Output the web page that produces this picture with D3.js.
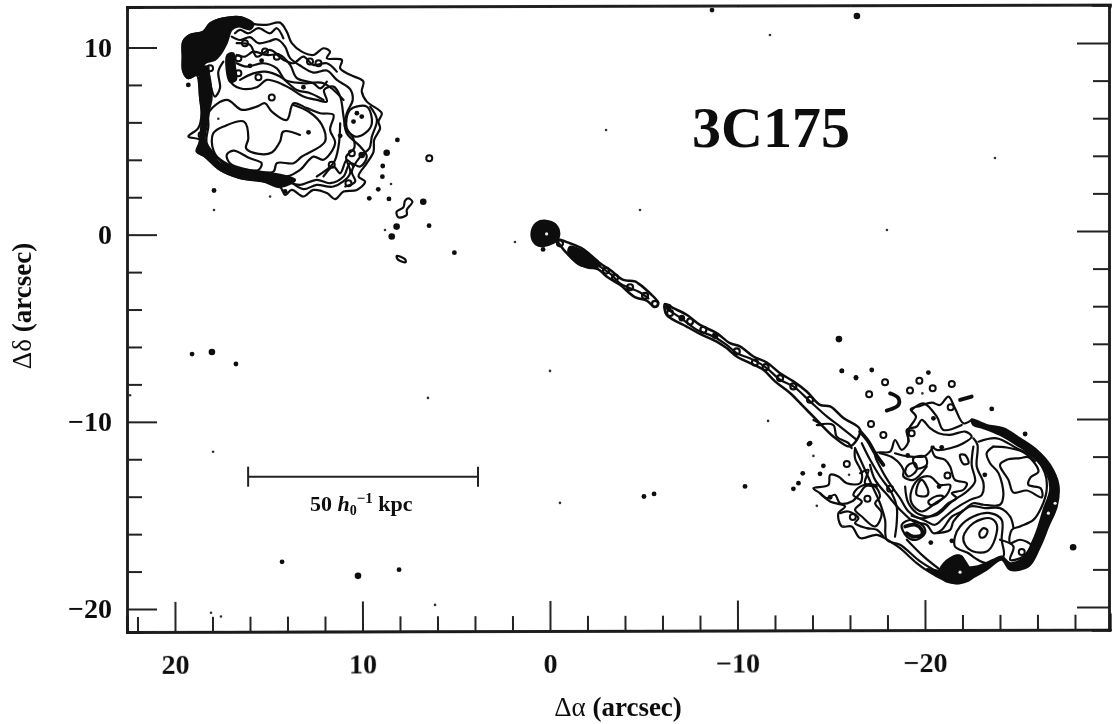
<!DOCTYPE html>
<html>
<head>
<meta charset="utf-8">
<title>3C175</title>
<script src="https://cdn.jsdelivr.net/npm/d3@7"></script>
<style>
  html, body { margin: 0; background: #fff; }
  svg { display: block; }
  text { font-family: "Liberation Serif", serif; font-weight: bold; fill: #111; }
  .greek { font-weight: normal; }
</style>
</head>
<body>
<div id="chart"></div>
<script>
// all contour values are [delta alpha, delta delta] in arcsec
const xMajor = [20, 10, 0, -10, -20];
const xMinor = [22, 18, 16, 14, 12, 8, 6, 4, 2, -2, -4, -6, -8, -12, -14, -16, -18, -22, -24, -26, -28];
const yMajor = [10, 0, -10, -20];
const yMinor = [8, 6, 4, 2, -2, -4, -6, -8, -12, -14, -16, -18];
const scaleBarAlpha = [16.1, 3.84];
const scaleBarDelta = [-12.93];

// north lobe
const northOuter = [[19.56,10.32],[19.2,10.67],[18.49,10.85],[18.13,11.29],[17.42,11.56],[16.44,11.61],[15.82,11.26],[15.11,11.21],[14.4,11.33],[14.04,10.85],[13.77,10.23],[13.24,9.78],[12.62,9.6],[12.08,9.96],[11.73,9.78],[11.9,9.43],[11.1,9.34],[11.19,8.89],[10.66,8.54],[9.95,8.18],[10.04,7.65],[9.77,7.11],[8.97,6.49],[9.15,6.04],[9.06,5.69],[9.38,5.06],[9.41,4.44],[9.77,3.82],[10.21,3.11],[9.86,2.84],[10.3,2.39],[11.01,2.3],[11.46,1.9],[11.9,2.22],[12.62,2.39],[13.15,2.04],[13.77,2.39],[14.13,2.13],[14.4,2.57],[15.29,2.84],[16.53,3.02],[17.6,3.46],[18.4,4.17],[18.85,4.44],[18.67,5.06],[19.29,5.24],[18.76,5.69],[18.58,6.49],[18.67,7.38],[18.85,8.54],[19.29,8.36],[19.56,8.71],[19.59,9.51]];
const northSecond = [[16.98,10.58],[16.53,10.4],[16,10.55],[15.55,10.23],[15.02,10.32],[14.57,10.44],[14.13,10.05],[13.86,9.43],[13.24,8.98],[12.62,8.66],[11.9,8.77],[11.37,8.27],[10.66,7.77],[10.52,7.2],[10.84,6.49],[10.92,5.69],[10.52,5.21],[10.44,4.62],[10.87,4.17],[10.66,3.28],[11.55,2.57],[12.44,2.66],[13.15,2.43],[13.77,2.79]];
const northThird = [[17.15,9.51],[17.1,8.27],[16.53,7.82],[15.64,7.88],[15.11,8.27],[14.4,8.09],[13.86,7.82],[13.15,7.38],[12.44,7.2],[11.9,7.11],[12.05,7.73],[11.55,7.91],[11.19,7.38],[11.01,6.31],[10.84,5.42],[10.12,4.71],[9.77,4.17],[10.12,3.64],[10.66,3.82],[11.01,3.11],[11.73,2.75],[12.44,2.93],[13.33,2.66],[14.04,2.84]];
const northFourth = [[18.17,6.58],[17.24,7.2],[16.44,6.67],[15.64,6.84],[15.2,7.02],[14.84,6.58],[14.04,6.13],[13.68,7.02],[12.97,6.76],[12.26,6.49],[11.55,6.4],[11.73,5.6],[11.46,4.89],[12.08,4],[12.62,4.17],[13.33,3.46],[14.04,3.11],[15.11,3.28],[16.71,3.55],[17.78,4.17],[18.31,4.89],[18.22,5.78]];
const northFifth = [[13.33,5.33],[14.22,5.51],[14.4,4.97],[14.84,4.39],[15.55,4.32],[16.21,4.62],[16.09,5.15],[16.32,6.04],[17.33,5.81],[17.96,5.42],[17.96,4.53],[17.42,3.82],[16.18,3.46],[14.75,3.37],[14.57,3.82],[13.68,3.82],[13.24,4.17],[12,4.97],[12.17,5.87],[12.88,6.58],[13.68,6.93]];
const northIsland = [[17.24,4.26],[16.89,4.49],[16,4.08],[15.38,3.82],[15.55,3.46],[16.44,3.55],[17.07,3.82]];
const northLoop = [[10.66,6.67],[9.77,6.84],[9.5,5.95],[9.86,5.42],[10.39,5.24],[10.84,5.69]];
const northRim = [[9.59,6.84],[9.23,6.13],[9.5,5.24],[9.63,4.62],[10.12,4.17],[10.57,3.37],[10.39,2.84],[10.92,2.57]];
const northInnerLeft = [[18.22,8.98],[18.13,8.09],[17.87,7.38],[17.6,7.83],[17.69,8.71],[17.42,9.25]];
const northUpperA = [[16.8,10.76],[16.53,10.94],[16.09,10.76],[15.55,11.03],[14.93,10.76],[14.57,11.03],[14.22,10.49]];
const northUpperB = [[16.71,9.6],[16.27,9.51],[15.82,9.78],[15.11,9.6],[14.4,9.6],[13.86,9.07],[13.5,8.36],[12.62,8.09],[12.26,7.82],[11.9,8.18]];
const northUpperC = [[16.53,8.27],[15.82,8.62],[15.2,8.71],[14.4,8.45],[13.5,7.73],[12.79,7.56],[12.08,7.2]];
const northUpperD = [[16.71,10.23],[16,10.14],[15.64,9.51],[14.93,9.87],[14.22,9.34],[13.68,9.16],[13.15,9.51],[12.62,9.07],[11.9,9.16],[11.37,8.71]];
const northUpperE = [[16.71,9.16],[16.18,8.98],[15.29,9.16],[14.57,8.89],[14.13,8.27],[13.15,8.09],[12.08,8.09],[11.01,7.2]];
const northLowerA = [[12.08,3.11],[11.55,3.64],[11.19,3.28],[10.84,3.99],[10.48,3.64]];
const northLowerB = [[11.19,5.95],[11.28,4.71],[11.55,3.82],[12.44,3.11]];
const northCap = [[19.56,10.32],[19.2,10.67],[18.49,10.85],[18.13,11.29],[17.42,11.56],[16.44,11.61],[15.82,11.26],[16,10.97],[16.62,11.12],[16.98,10.94],[17.24,10.23],[17.6,9.6],[17.87,9.34],[18.4,9.16],[18.67,8.54],[18.85,8.54],[19.29,8.36],[19.56,8.71],[19.59,9.51]];
const northBand = [[18.58,6.49],[18.67,5.06],[18.76,4.44],[18.4,4.17],[17.6,3.46],[16.53,3.02],[15.29,2.84],[14.4,2.54],[13.59,2.93],[14.4,3.2],[15.47,3.37],[16.71,3.55],[17.6,3.82],[18.04,4.44],[18.4,5.06],[18.28,5.95],[18.17,6.67],[18.04,7.38],[18.35,9],[18.6,8.8],[18.67,7.38]];
const northBar = [[17.21,9.6],[16.89,9.69],[16.8,8.98],[16.75,8.27],[17.07,8.18]];
const northSquiggle = [[7.56,1.94],[7.34,1.76],[7.64,1.32],[7.64,1.05],[8.09,0.93],[8.18,1.23],[7.82,1.46],[7.73,1.82]];
const northSliver = [[8.18,-1.14],[7.73,-1.31],[7.7,-1.47],[8.09,-1.35]];

// jet
const core = [[0.98,0.16],[0.71,0.64],[0.21,0.75],[-0.27,0.57],[-0.5,0.07],[-0.36,-0.32],[0.09,-0.55],[0.62,-0.6],[0.89,-0.37]];
const jetInner = [[-0.36,-0.25],[-1.07,-0.46],[-1.78,-0.78],[-2.67,-1.53],[-3.2,-1.88],[-3.91,-2.42],[-4.53,-2.5],[-5.33,-3.13],[-5.78,-3.66],[-5.6,-3.87],[-5.16,-3.52],[-4.53,-3.34],[-3.73,-2.68],[-3.02,-2.24],[-2.58,-1.85],[-1.6,-1.62],[-1.07,-1.17],[-0.53,-0.55]];
const jetInnerFill = [[-1.07,-0.64],[-1.96,-0.99],[-2.67,-1.62],[-2.22,-1.79],[-1.51,-1.53],[-0.98,-0.99]];
const jetInnerSpine = [[-2.67,-1.71],[-3.29,-2.15],[-3.73,-2.6],[-4.27,-2.86],[-4.71,-3.04],[-5.25,-3.4]];
const jetOuter = [[-6.13,-3.7],[-6.58,-3.93],[-7.29,-4.28],[-8,-4.82],[-8.89,-5.26],[-9.6,-5.8],[-10.13,-5.97],[-10.85,-6.51],[-11.56,-6.83],[-12.27,-7.4],[-12.98,-7.84],[-13.69,-8.38],[-14.4,-9.09],[-14.94,-9.18],[-15.65,-9.8],[-16.54,-10.42],[-16,-11.31],[-15.11,-10.78],[-14.22,-9.89],[-13.51,-9.18],[-12.8,-8.46],[-12,-7.84],[-11.38,-7.22],[-10.67,-6.86],[-9.96,-6.51],[-9.42,-6.06],[-8.89,-5.71],[-8,-5.3],[-7.29,-4.91],[-6.22,-4.28]];
const jetOuterSpine = [[-6.31,-4.02],[-7.11,-4.55],[-7.82,-5.08],[-8.71,-5.44],[-9.42,-5.89],[-9.96,-6.33],[-10.85,-6.69],[-11.56,-7.13],[-12.27,-7.75],[-12.98,-8.11],[-13.87,-8.91],[-14.76,-9.71],[-15.47,-10.25],[-16.36,-10.96]];
const jetRings = [[-0.53,-0.46],[-2.99,-1.92],[-3.47,-2.29],[-4.27,-2.81],[-5.07,-3.27],[-5.6,-3.7],[-6.4,-4.19],[-7.47,-4.64],[-8.18,-5.08],[-9.96,-6.24],[-10.93,-6.83],[-11.5,-7.08],[-12.27,-7.66],[-12.98,-8.11],[-13.87,-8.82]];

// south lobe
const southRim = [[-22.49,-9.86],[-23.29,-10.17],[-24.18,-10.34],[-25.07,-10.88],[-25.96,-11.5],[-26.67,-12.3],[-27.12,-13.37],[-27.03,-14.52],[-26.58,-15.59],[-26.14,-16.66],[-25.52,-17.73],[-24.54,-17.9],[-24.09,-17.37],[-23.29,-17.9],[-22.49,-18.35],[-21.69,-18.62],[-20.8,-18.35],[-20.09,-17.87],[-20.63,-17.94],[-20.98,-17.9],[-21.52,-17.19],[-21.96,-17.19],[-22.23,-17.73],[-22.76,-17.73],[-23.65,-17.37],[-24.09,-17.19],[-24.54,-17.55],[-25.25,-17.28],[-25.78,-16.3],[-26.05,-15.59],[-26.32,-14.7],[-26.67,-13.63],[-26.49,-12.74],[-25.78,-11.86],[-24.89,-11.23],[-24,-10.7],[-23.12,-10.34],[-22.58,-10.17]];
const southKnot = [[-20.8,-17.9],[-21.34,-17.28],[-21.87,-17.16],[-22.32,-17.73],[-22.58,-18.26],[-21.87,-18.62],[-20.98,-18.44]];
const southTop = [[-22.49,-9.9],[-22.05,-10.08],[-21.6,-9.28],[-21.25,-8.65],[-20.8,-9.1],[-20.36,-8.97],[-19.74,-9.15],[-19.24,-9.33],[-19.52,-9.72],[-19.12,-10.43],[-19.12,-11.05]];
const southTopB = [[-19.29,-9.36],[-19.92,-9.01],[-20.63,-9.72],[-20.98,-10.43],[-21.96,-10.17]];
const southLeft = [[-20.8,-18.26],[-20.18,-17.99],[-19.56,-17.55],[-18.67,-16.75],[-18.14,-16.39],[-17.43,-16.04],[-16.54,-16.21],[-16.09,-15.59],[-15.56,-15.59],[-15.38,-14.88],[-15.74,-14.52],[-14.94,-14.26],[-14.4,-13.81],[-14.05,-13.55],[-14.85,-13.37],[-14.94,-12.83],[-15.38,-12.92],[-15.83,-13.28],[-16.54,-13.28],[-16.63,-12.74],[-16.27,-11.94],[-16.27,-11.41]];
const southEdgeA = [[-16.27,-11.41],[-16.72,-12.39],[-17.16,-13.37],[-17.6,-14.35],[-17.87,-15.24],[-17.96,-16.3],[-18.67,-16.57],[-19.74,-17.46],[-20.63,-18]];
const southEdgeB = [[-19.03,-16.3],[-19.92,-17.19],[-20.8,-17.9]];
const southEdgeC = [[-16.63,-11.14],[-17.07,-12.03],[-17.6,-12.92],[-18.23,-13.81],[-18.49,-14.52],[-18.49,-15.41],[-18.4,-16.13]];
const southInner = [[-17.34,-11.68],[-18.14,-11.59],[-18.4,-10.97],[-18.76,-11.5],[-19.12,-11.05],[-19.03,-10.43],[-19.56,-10.25],[-19.83,-9.9],[-20.27,-10.34],[-20.72,-10.61],[-21.34,-10.7],[-22.14,-10.52],[-22.49,-10.79],[-22.05,-11.14],[-21.34,-11.41],[-20.63,-11.5],[-20.36,-11.32],[-20.54,-11.86],[-21.07,-12.03],[-21.34,-12.39],[-21.6,-13.1],[-22.23,-13.28],[-22.05,-13.63],[-21.43,-13.81],[-21.69,-14.08],[-21.25,-14.35],[-20.63,-14.88],[-19.74,-15.15],[-19.12,-14.79],[-18.67,-14.08],[-18.23,-13.46],[-17.69,-12.57]];
const southCentre = [[-19.29,-13.63],[-19.74,-13.01],[-20.27,-12.92],[-20.8,-13.37],[-21.34,-13.37],[-21.16,-13.9],[-20.54,-14.35],[-19.83,-14.79],[-19.29,-14.35]];
const southWrap = [[-18.94,-13.46],[-19.12,-14.35],[-19.74,-14.97],[-20.63,-14.97],[-21.43,-14.26],[-22.23,-13.72],[-22.67,-13.19],[-22.49,-12.3],[-22.58,-11.32]];
const southMid = [[-23.65,-11.32],[-23.29,-11.68],[-23.47,-12.21],[-23.92,-12.74],[-24.18,-13.9],[-24,-14.43],[-23.12,-14.43],[-22.58,-14.35],[-21.96,-14.79],[-21.43,-15.06],[-20.89,-15.77],[-20.45,-15.95],[-20.09,-15.5],[-19.38,-15.32],[-18.67,-14.7],[-18.14,-14.08],[-17.34,-13.1],[-17.07,-12.3]];
const southMidB = [[-22.58,-10.88],[-22.8,-11.23],[-22.76,-12.39],[-23.12,-13.28],[-23.03,-13.9],[-22.4,-14.17],[-21.52,-14.7],[-20.98,-15.15],[-20.54,-15.5],[-19.92,-15.24],[-19.29,-15.02]];
const southBelow = [[-20.63,-15.95],[-21.34,-15.77],[-21.52,-15.32],[-22.4,-14.52],[-23.2,-14.61],[-24,-14.61],[-24.54,-15.06],[-24.72,-15.68]];
const southBelowB = [[-24,-16.3],[-24.72,-16.66],[-24.54,-17.37],[-25.25,-17.19],[-25.78,-16.48]];
const southArc = [[-22.85,-11.06],[-23.83,-10.88],[-24.89,-11.41],[-25.87,-11.94],[-26.4,-12.74],[-26.49,-13.63],[-26.23,-14.52],[-25.78,-15.24],[-25.07,-15.59],[-24.63,-15.77],[-24.54,-16.48],[-25.07,-16.3],[-25.69,-16.62],[-25.52,-17.19]];
const southArcInner = [[-23.65,-11.32],[-24.36,-11.37],[-25.2,-11.6],[-25.87,-12.1]];
const southIsland = [[-24,-12.3],[-24.36,-12.03],[-25.07,-11.94],[-25.52,-11.89],[-26.05,-12.66],[-25.64,-12.96],[-25.52,-13.37],[-26.17,-13.55],[-26.23,-14.03],[-25.43,-13.67],[-24.72,-13.78],[-24.45,-13.1]];
const ovalOuter = [[-21.6,-16.13],[-21.87,-15.59],[-22.58,-15.06],[-23.47,-14.88],[-24.09,-15.24],[-24.09,-16.3],[-24.18,-17.19],[-23.29,-17.55],[-22.67,-17.28],[-22.32,-17.02],[-21.6,-16.66]];
const ovalMiddle = [[-22.05,-16.13],[-22.58,-15.41],[-23.47,-15.15],[-23.83,-15.5],[-23.65,-16.48],[-23.29,-16.93],[-22.58,-16.93],[-22.14,-16.57]];
const ovalInner = [[-22.9,-15.95],[-23.12,-15.68],[-23.33,-15.8],[-23.2,-16.13],[-22.97,-16.18]];
const knotOuter = [[-18.76,-15.5],[-19.29,-15.24],[-19.92,-15.59],[-20,-15.95],[-19.56,-16.3],[-19.03,-16.13]];
const knotInner = [[-18.94,-15.59],[-19.47,-15.5],[-19.83,-15.77],[-19.83,-16.04],[-19.38,-16.13],[-19.03,-15.95]];
const islandA = [[-19.65,-13.28],[-19.83,-13.1],[-20.18,-13.72],[-20.09,-13.95],[-19.56,-13.9]];
const islandB = [[-20.18,-14.26],[-20.63,-13.96],[-20.98,-13.99],[-20.63,-14.35],[-20.27,-14.43]];
const islandC = [[-21.87,-11.77],[-22.14,-11.77],[-22.32,-12.21],[-22.05,-12.25]];
const islandD = [[-19.12,-12.3],[-19.47,-12.21],[-19.56,-12.57],[-19.12,-12.92],[-18.94,-12.66]];
const islandE = [[-19.38,-11.94],[-20,-11.86],[-20.09,-12.3],[-19.56,-12.48]];
const southPatch = [[-16.54,-13.46],[-17.25,-13.37],[-17.6,-13.99],[-17.34,-14.35],[-17.69,-14.88],[-17.34,-15.59],[-16.63,-15.06],[-16.27,-14.7],[-16.63,-14.26],[-16.18,-13.9]];
const messA = [[-14.4,-13.81],[-14.76,-14.08],[-15.2,-13.9],[-15.47,-14.35],[-16.09,-14.26],[-16.54,-13.81],[-16.8,-13.46],[-17.43,-13.37]];
const messB = [[-15.47,-14.88],[-15.92,-14.79],[-16.45,-15.15],[-16.27,-15.41],[-16.89,-15.68],[-17.43,-15.77],[-17.78,-16.13]];
const messC = [[-16.54,-12.74],[-16.98,-12.57],[-16.8,-13.28],[-17.43,-13.46]];
const messD = [[-17.6,-11.68],[-18.32,-11.94],[-18.85,-12.57],[-18.85,-12.92],[-19.38,-13.1],[-20.09,-12.39]];
const messE = [[-18.4,-11.68],[-19.12,-11.85],[-20,-11.82],[-20.45,-11.32]];
const jetEntry = [[-16.54,-10.52],[-16.98,-11.05],[-17.34,-11.68],[-17.78,-12.3]];
const jetJag = [[-14.05,-9.9],[-14.49,-10.17],[-14.23,-10.17],[-15.11,-10.17],[-15.29,-10.79],[-15.92,-11.14],[-16.09,-11.41]];
const southHook = [[-18.14,-8.48],[-18.58,-8.74],[-18.58,-9.1],[-17.96,-9.4]];
const southStroke = [[-21.87,-8.83],[-22.49,-8.65]];

// unresolved spots
const rings = [[16.27,10.23],[16.62,9.43],[16.62,8.62],[15.55,8.41],[15.2,9.78],[14.57,9.51],[12.8,9.25],[12.35,9.16],[14.84,7.33],[10.57,4.35],[11.64,3.73],[10.75,2.75],[18.13,8.89],[18.58,5.33],[6.44,4.08],[-21.2,-12.87],[-18.14,-13.57],[-16.93,-14.11],[-16.15,-15.09],[-25.16,-16.96],[-17.87,-7.89],[-19.7,-7.8],[-20.41,-8.21],[-21.43,-7.98],[-19.2,-8.33],[-17.02,-8.53],[-21.37,-9.22],[-17.12,-10.11],[-17.78,-10.7],[-19.29,-10.61],[-15.83,-12.25]];
const largeDots = [[10.04,4.26],[8.71,4.38],[8.18,0.43],[8.44,-0.1],[6.76,1.76],[-16.37,11.68],[-15.41,-5.58],[10.24,-18.23],[-27.9,-16.7],[-6.31,-3.87],[-8.81,-5.4],[-7.03,-4.46],[18.03,-6.27]];
const dots = [[16,9.02],[15.38,9.3],[13.15,7.88],[12.88,5.47],[11.19,5.28],[10.3,6.49],[10.04,6.31],[10.48,6.04],[19.29,8],[17.92,2.36],[14.13,2.31],[8.14,5.06],[8.92,3.67],[8.94,3.1],[9.16,2.42],[9.64,1.94],[8.59,1.91],[6.45,0.48],[5.1,-0.96],[-16.32,-7.62],[-15.56,-7.28],[-17.16,-7.23],[-20.18,-7.37],[-20.45,-9.81],[-23.56,-9.31],[-25.34,-10.65],[-20.89,-11.36],[-13.87,-11.14],[-14.58,-12.35],[-14.4,-12.78],[-13.48,-12.75],[-13.25,-13.28],[-12.98,-13.58],[-14.94,-14.03],[-19.08,-11.8],[-23.19,-12.83],[-20.75,-13.46],[-20.31,-16.45],[-21.43,-16.36],[19.09,-6.38],[16.75,-6.91],[14.29,-17.48],[8.05,-17.9],[-10.4,-13.45],[-5.01,-13.99],[-5.55,-13.85],[-8.64,12],[0.37,-0.79],[-13.81,-11.19],[-15.57,-7.28],[-16.32,-7.66]];
const smallDots = [[17.69,6.19],[12.79,6.67],[14.93,2.04],[8.8,0.25],[8.48,2.71],[-11.73,10.67],[-2.99,5.59],[-23.73,4.1],[17.92,1.32],[-4.8,1.32],[-17.97,0.25],[1.87,-0.39],[22.4,-8.58],[6.51,-8.72],[17.97,-11.6],[0,-7.28],[-0.53,-14.33],[6.13,-19.78],[18.08,-20.2],[17.55,-20.4],[-11.63,-9.95],[-19.86,-8.48],[-14.05,-11.82],[-14.23,-14.49],[-15.95,-12.83],[-15.65,-15.59]];
const holes = [[0.18,0.04],[-21.87,-18.03],[-26.58,-14.88],[-26.94,-14.35]];

const closedContours = [northOuter, northFourth, northIsland, northLoop, northSquiggle, northSliver, southInner, southCentre, southIsland, ovalOuter, ovalMiddle, ovalInner, knotOuter, islandA, islandB, islandC, islandD, islandE, southPatch];
const openContours = [northSecond, northThird, northFifth, northRim, northInnerLeft, northUpperA, northUpperB, northUpperC, northUpperD, northUpperE, northLowerA, northLowerB, southTop, southTopB, southLeft, southEdgeA, southEdgeB, southEdgeC, southWrap, southMid, southMidB, southBelow, southBelowB, southArc, southArcInner, messA, messB, messC, messD, messE, jetJag];
const jetClosed = [jetInner, jetOuter];
const jetOpen = [jetInnerSpine, jetOuterSpine];
const solidContours = [northCap, northBand, northBar, core, jetInnerFill, southRim, southKnot];
const heavyLines = [knotInner, jetEntry, southHook, southStroke];

const width = 1112, height = 724;
const svg = d3.select("#chart").append("svg").attr("width", width).attr("height", height);

// scan is a bit soft
svg.append("defs").append("filter").attr("id", "soft").append("feGaussianBlur").attr("stdDeviation", 0.65);
const root = svg.append("g").attr("filter", "url(#soft)");

const x = d3.scaleLinear().domain([20, -20]).range([175, 925]);
const y = d3.scaleLinear().domain([10, -20]).range([47.5, 609]);
// right hand ticks sit a bit higher, page is tilted on the scanner
const yRight = d3.scaleLinear().domain([10, -20]).range([43, 607]);
const frameLeft = 127, frameRight = 1110, frameTop = 7, frameBottom = 632;
const xFrame = x.copy().domain([x.invert(frameLeft), x.invert(frameRight)]).range([frameLeft, frameRight]);
const yFrame = y.copy().domain([y.invert(frameTop), y.invert(frameBottom)]).range([frameTop, frameBottom]);
const yRightFrame = yRight.copy().domain([yRight.invert(frameTop - 2), yRight.invert(frameBottom - 2)]).range([frameTop - 2, frameBottom - 2]);
const fmt = d => String(d).replace("-", "\u2212");

function styleAxis(g) {
  g.selectAll("path.domain").attr("stroke", "#1a1a1a").attr("stroke-width", 2.4).attr("stroke-linecap", "square");
  g.selectAll("line").attr("stroke", "#222").attr("stroke-width", 2);
  g.selectAll("text").attr("font-size", 28);
}

function addAxis(axis, major, minor, transform, majorLen, minorLen, pad) {
  const g = root.append("g").attr("transform", transform);
  g.append("g").call(axis.tickValues(major).tickSize(-majorLen).tickSizeOuter(0).tickPadding(pad).tickFormat(fmt)).call(styleAxis);
  g.append("g").call(axis.tickValues(minor).tickSize(-minorLen).tickFormat("")).call(styleAxis);
  return g;
}

const tilt = "rotate(-0.14 " + frameLeft + " ";
addAxis(d3.axisBottom(xFrame), xMajor, xMinor, tilt + frameBottom + ") translate(0," + frameBottom + ")", 30, 15, 22);
addAxis(d3.axisTop(xFrame), xMajor, xMinor, tilt + frameTop + ") translate(0," + frameTop + ")", 2, 2, 6).selectAll("text").remove();
addAxis(d3.axisLeft(yFrame), yMajor, yMinor, "translate(" + frameLeft + ",0)", 30, 15, 15);
addAxis(d3.axisRight(yRightFrame), yMajor, yMinor, "translate(" + (frameRight - 1) + ",0)", 32, 16, 6).selectAll("text").remove();

const smooth = d3.line().x(d => x(d[0])).y(d => y(d[1])).curve(d3.curveCatmullRom.alpha(0.5));
const smoothClosed = d3.line().x(d => x(d[0])).y(d => y(d[1])).curve(d3.curveCatmullRomClosed.alpha(0.5));

const map = root.append("g").attr("fill", "none").attr("stroke", "#0c0c0c").attr("stroke-linejoin", "round").attr("stroke-linecap", "round");

map.selectAll(".closed").data(closedContours).join("path").attr("class", "closed")
  .attr("d", smoothClosed).attr("stroke-width", 2.2);
map.selectAll(".open").data(openContours).join("path").attr("class", "open")
  .attr("d", smooth).attr("stroke-width", 2.2);
map.selectAll(".jetc").data(jetClosed).join("path").attr("class", "jetc")
  .attr("d", smoothClosed).attr("stroke-width", 2.5);
map.selectAll(".jeto").data(jetOpen).join("path").attr("class", "jeto")
  .attr("d", smooth).attr("stroke-width", 2.2);
map.selectAll(".heavy").data(heavyLines).join("path").attr("class", "heavy")
  .attr("d", smooth).attr("stroke-width", 3.8);
map.selectAll(".solid").data(solidContours).join("path").attr("class", "solid")
  .attr("d", smoothClosed).attr("fill", "#0c0c0c").attr("stroke-width", 2);

map.selectAll(".ring").data(rings).join("circle").attr("class", "ring")
  .attr("cx", d => x(d[0])).attr("cy", d => y(d[1])).attr("r", 3).attr("stroke-width", 2);
map.selectAll(".jetring").data(jetRings).join("circle").attr("class", "jetring")
  .attr("cx", d => x(d[0])).attr("cy", d => y(d[1])).attr("r", 3).attr("stroke-width", 2.2);
const spots = root.append("g").attr("fill", "#0c0c0c");
spots.selectAll(".large").data(largeDots).join("circle").attr("class", "large")
  .attr("cx", d => x(d[0])).attr("cy", d => y(d[1])).attr("r", 3.3);
spots.selectAll(".dot").data(dots).join("circle").attr("class", "dot")
  .attr("cx", d => x(d[0])).attr("cy", d => y(d[1])).attr("r", 2.4);
spots.selectAll(".small").data(smallDots).join("circle").attr("class", "small")
  .attr("cx", d => x(d[0])).attr("cy", d => y(d[1])).attr("r", 1.3).attr("fill", "#333");
spots.selectAll(".hole").data(holes).join("circle").attr("class", "hole")
  .attr("cx", d => x(d[0])).attr("cy", d => y(d[1])).attr("r", 1.6).attr("fill", "#eee");

// scale bar
const bar = root.append("g").attr("stroke", "#222");
bar.append("line").attr("x1", x(scaleBarAlpha[0])).attr("x2", x(scaleBarAlpha[1]))
  .attr("y1", y(scaleBarDelta[0])).attr("y2", y(scaleBarDelta[0])).attr("stroke-width", 2);
bar.selectAll(".cap").data(scaleBarAlpha).join("line").attr("class", "cap")
  .attr("x1", d => x(d)).attr("x2", d => x(d))
  .attr("y1", y(scaleBarDelta[0]) - 10).attr("y2", y(scaleBarDelta[0]) + 10).attr("stroke-width", 2);

const barLabel = root.append("text").attr("x", 310).attr("y", 511).attr("font-size", 22);
barLabel.append("tspan").text("50 ");
barLabel.append("tspan").attr("font-style", "italic").text("h");
barLabel.append("tspan").attr("font-size", 14).attr("dy", 4).text("0");
barLabel.append("tspan").attr("font-size", 15).attr("dy", -12).text("\u22121");
barLabel.append("tspan").attr("dy", 8).text(" kpc");

root.append("text").attr("x", 692).attr("y", 147).attr("font-size", 58).text("3C175");

const xLabel = root.append("text").attr("x", 618).attr("y", 716).attr("text-anchor", "middle").attr("font-size", 27);
xLabel.append("tspan").attr("class", "greek").text("\u0394\u03b1");
xLabel.append("tspan").text(" (arcsec)");
const yLabel = root.append("text").attr("transform", "translate(31,306) rotate(-90)").attr("text-anchor", "middle").attr("font-size", 27);
yLabel.append("tspan").attr("class", "greek").text("\u0394\u03b4");
yLabel.append("tspan").text(" (arcsec)");
</script>
</body>
</html>
